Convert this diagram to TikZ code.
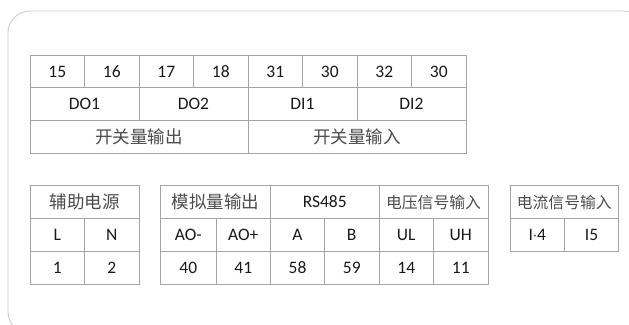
\documentclass[tikz,border=0pt]{standalone}
\usepackage{fontspec}
\setmainfont{Carlito}
\newfontfamily\cjkfont{Noto Sans CJK SC}
\definecolor{gridgray}{RGB}{165,165,165}
\definecolor{framegray}{RGB}{205,205,205}
\definecolor{txt}{RGB}{25,25,25}
\definecolor{cjkgray}{RGB}{75,75,75}
\newcommand\cjk{\cjkfont\color{cjkgray}}
\newcommand\mycell[6]{%
  \pgfmathsetmacro\cx{(#2+#4)/2}%
  \pgfmathsetmacro\cy{(#3+#5)/2}%
  \pgfmathsetmacro\cw{#4-#2}%
  \pgfmathsetmacro\ch{#5-#3}%
  \node[cellbox, minimum width=\cw pt, minimum height=\ch pt] (#1) at (\cx,\cy) {#6};%
}
\tikzset{
  cellbox/.style={draw=gridgray, line width=0.8pt, inner sep=0pt, outer sep=0pt, text=txt, font=\fontsize{17.5}{17.5}\selectfont},
  frame/.style={draw=framegray, line width=0.9pt, rounded corners=22pt}
}
\begin{document}
\begin{tikzpicture}[x=1pt,y=-1pt]
\useasboundingbox (0,0) rectangle (629,324);
\begin{scope}
\clip (0,0) rectangle (629,324);
\draw[frame] (8,11) rectangle (645,334);
\end{scope}
% top table row 1
\mycell{t15}{30}{55.5}{84.5}{87.5}{15}
\mycell{t16}{84.5}{55.5}{139}{87.5}{16}
\mycell{t17}{139}{55.5}{193.5}{87.5}{17}
\mycell{t18}{193.5}{55.5}{248}{87.5}{18}
\mycell{t31}{248}{55.5}{302.5}{87.5}{31}
\mycell{t30a}{302.5}{55.5}{357}{87.5}{30}
\mycell{t32}{357}{55.5}{411.5}{87.5}{32}
\mycell{t30b}{411.5}{55.5}{466}{87.5}{30}
% row 2
\mycell{do1}{30}{87.5}{139}{120}{DO1}
\mycell{do2}{139}{87.5}{248}{120}{DO2}
\mycell{di1}{248}{87.5}{357}{120}{DI1}
\mycell{di2}{357}{87.5}{466}{120}{DI2}
% row 3
\mycell{kgout}{30}{120}{248}{153}{\cjk 开关量输出}
\mycell{kgin}{248}{120}{466}{153}{\cjk 开关量输入}
% table A
\mycell{fzdy}{30}{185.5}{139}{218.5}{\cjk 辅助电源}
\mycell{pL}{30}{218.5}{84.5}{251.5}{L}
\mycell{pN}{84.5}{218.5}{139}{251.5}{N}
\mycell{p1}{30}{251.5}{84.5}{284.5}{1}
\mycell{p2}{84.5}{251.5}{139}{284.5}{2}
% table B
\mycell{mnl}{160.5}{185.5}{270.5}{218.5}{\cjk 模拟量输出}
\mycell{rs}{270.5}{185.5}{379}{218.5}{RS485}
\mycell{dyin}{379}{185.5}{488}{218.5}{\cjk\fontsize{15.8}{15.8}\selectfont 电压信号输入}
\mycell{aom}{160.5}{218.5}{216}{251.5}{AO-}
\mycell{aop}{216}{218.5}{270.5}{251.5}{AO+}
\mycell{ra}{270.5}{218.5}{324.5}{251.5}{A}
\mycell{rb}{324.5}{218.5}{379}{251.5}{B}
\mycell{ul}{379}{218.5}{433.5}{251.5}{UL}
\mycell{uh}{433.5}{218.5}{488}{251.5}{UH}
\mycell{n40}{160.5}{251.5}{216}{284.5}{40}
\mycell{n41}{216}{251.5}{270.5}{284.5}{41}
\mycell{n58}{270.5}{251.5}{324.5}{284.5}{58}
\mycell{n59}{324.5}{251.5}{379}{284.5}{59}
\mycell{n14}{379}{251.5}{433.5}{284.5}{14}
\mycell{n11}{433.5}{251.5}{488}{284.5}{11}
% table C
\mycell{dlin}{510}{185.5}{618.5}{218.5}{\cjk\fontsize{15.8}{15.8}\selectfont 电流信号输入}
\mycell{i4}{510}{218.5}{564.5}{251.5}{I\raisebox{0.3pt}{\fontsize{8}{8}\selectfont *}4}
\mycell{i5}{564.5}{218.5}{618.5}{251.5}{I5}
\end{tikzpicture}
\end{document}
